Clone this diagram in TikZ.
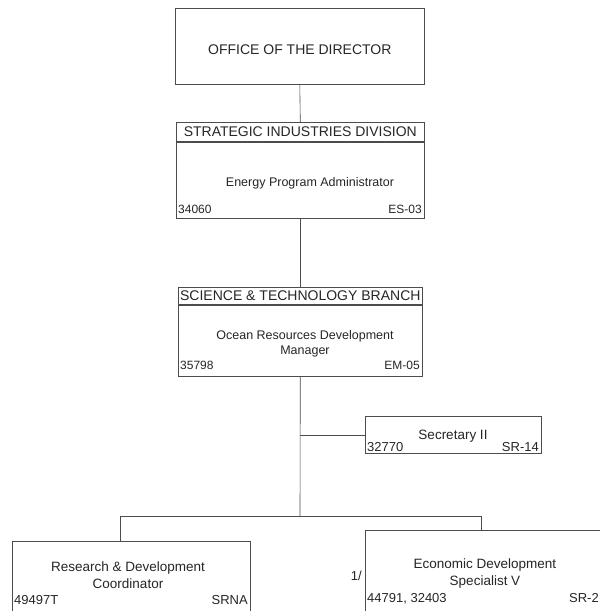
\documentclass[tikz,border=0pt]{standalone}
\usepackage{fontspec}
\setmainfont{Liberation Sans}
\begin{document}
\begin{tikzpicture}[x=1pt,y=-1pt,
  box/.style={draw=black!70, line width=0.6pt, rectangle, inner sep=0pt, anchor=north west},
  link/.style={draw=black!70, line width=0.6pt},
  title/.style={font=\fontsize{14}{16}\selectfont, text=black!85, inner sep=0pt},
  lbl/.style={font=\fontsize{12.5}{14.5}\selectfont, text=black!85, inner sep=0pt, align=center},
  biglbl/.style={font=\fontsize{13.5}{17}\selectfont, text=black!85, inner sep=0pt, align=center},
  code/.style={font=\fontsize{12}{14}\selectfont, text=black!85, inner sep=0pt},
  bigcode/.style={font=\fontsize{13}{15}\selectfont, text=black!85, inner sep=0pt}
]
\useasboundingbox (0,0) rectangle (600,611);
\fill[white] (0,0) rectangle (600,611);

% Office of the Director
\node[box, minimum width=249pt, minimum height=76pt] (office) at (175,8) {};
\node[title] (officeT) at ([yshift=-3pt]office.center) {OFFICE OF THE DIRECTOR};

% Strategic Industries Division
\node[box, minimum width=248pt, minimum height=19pt] (stratH) at (176,122) {};
\node[title] (stratHT) at (stratH.center) {STRATEGIC INDUSTRIES DIVISION};
\node[box, minimum width=248pt, minimum height=76pt] (strat) at (stratH.south west) {};
\node[lbl] (stratT) at (310,183) {Energy Program Administrator};
\node[code, anchor=base west] (stratL) at (178,213) {34060};
\node[code, anchor=base east] (stratR) at (422,213) {ES-03};

% Science & Technology Branch
\node[box, minimum width=244pt, minimum height=17pt] (sciH) at (178,287) {};
\node[title] (sciHT) at (sciH.center) {SCIENCE \& TECHNOLOGY BRANCH};
\node[box, minimum width=244pt, minimum height=71pt] (sci) at (sciH.south west) {};
\node[lbl] (sciT) at (305,344) {Ocean Resources Development\\Manager};
\node[code, anchor=base west] (sciL) at (180,369) {35798};
\node[code, anchor=base east] (sciR) at (420,369) {EM-05};

% Secretary
\node[box, minimum width=176pt, minimum height=37pt] (sec) at (365,416) {};
\node[biglbl] (secT) at (453,436) {Secretary II};
\node[bigcode, anchor=base west] (secL) at (367,451) {32770};
\node[bigcode, anchor=base east] (secR) at (539,451) {SR-14};

% Research & Development Coordinator
\node[box, minimum width=238pt, minimum height=80pt] (rd) at (12,541) {};
\node[biglbl] (rdT) at (128,575) {Research \& Development\\Coordinator};
\node[bigcode, anchor=base west] (rdL) at (14,604) {49497T};
\node[bigcode, anchor=base east] (rdR) at (248,604) {SRNA};

% Economic Development Specialist V
\node[box, minimum width=240pt, minimum height=90pt] (econ) at (365,530) {};
\node[biglbl] (econT) at (485,574) {Economic Development\\Specialist V};
\node[bigcode, anchor=base west] (econL) at (367,602) {44791, 32403};
\node[bigcode, anchor=base east] (econR) at (599,602) {SR-2};
\node[bigcode, anchor=base east] (note) at (362,580) {1/};

% Connectors
\coordinate (jsec) at (sci.south |- sec.west);
\coordinate (bar) at (300,516);
\coordinate (barL) at (120,516);
\coordinate (barR) at (481,516);
\draw[link] (office.south) -- (stratH.north);
\draw[link] (strat.south) -- (sciH.north);
\draw[link] (sci.south) -- (bar);
\draw[link] (jsec) -- (sec.west);
\draw[link] (barL) -- (barR);
\draw[link] (barL) -- (barL |- rd.north);
\draw[link] (barR) -- (barR |- econ.north);
\end{tikzpicture}
\end{document}
